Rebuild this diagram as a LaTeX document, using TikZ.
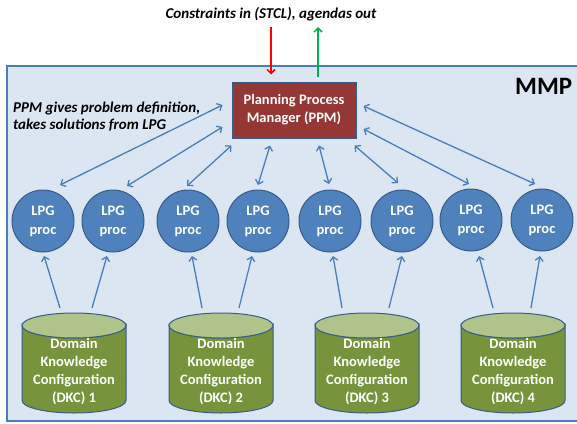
\documentclass[tikz,border=0pt]{standalone}
\usepackage{fontspec}
\setmainfont{Carlito}
\usetikzlibrary{arrows.meta,calc}

\definecolor{panelfill}{HTML}{DCE6F2}
\definecolor{panelline}{HTML}{4A7EBB}
\definecolor{shapeline}{HTML}{385D8A}
\definecolor{lpgfill}{HTML}{4F81BD}
\definecolor{ppmfill}{HTML}{953735}
\definecolor{dkcbody}{HTML}{77933C}
\definecolor{dkctop}{HTML}{B0C38A}
\definecolor{linkblue}{HTML}{4A7EBB}
\definecolor{inred}{HTML}{FF0000}
\definecolor{outgreen}{HTML}{00B050}

\tikzset{
  barb/.tip={Straight Barb[length=4pt,width=8pt]},
  lbl/.style={font=\fontsize{14.5}{18}\selectfont\bfseries, text=white, align=center},
  lpg/.style={circle, draw=shapeline, line width=1pt, fill=lpgfill,
    minimum size=62pt, inner sep=0pt, lbl, font=\fontsize{14.5}{19}\selectfont\bfseries},
  ppmbox/.style={rectangle, draw=shapeline, line width=1pt, fill=ppmfill,
    minimum width=124pt, minimum height=56pt, lbl},
  note/.style={font=\fontsize{15}{17}\selectfont\bfseries\itshape, text=black},
  link/.style={draw=linkblue, line width=1.3pt, barb-barb},
  feed/.style={draw=linkblue, line width=1.3pt, -barb},
  dkcdrum/.pic={
    \path[fill=dkcbody, draw=shapeline, line width=1pt]
      (-52,-37.5) -- (-52,37.5)
      arc[start angle=180, end angle=0, x radius=52, y radius=12.5]
      -- (52,-37.5)
      arc[start angle=0, end angle=180, x radius=52, y radius=12.5] -- cycle;
    \path[fill=dkctop, draw=shapeline, line width=1pt]
      (0,-37.5) ellipse[x radius=52, y radius=12.5];
  }
}

\begin{document}
\begin{tikzpicture}[x=1pt,y=-1pt]
\useasboundingbox (0,0) rectangle (577,423);
\clip (0,0) rectangle (577,423);
\fill[white] (0,0) rectangle (577,423);

% system panel
\path[fill=panelfill, draw=panelline, line width=1.5pt] (7,66) rectangle (600,421);
\node[font=\fontsize{25}{28}\selectfont\bfseries, anchor=west, inner sep=0pt] (mmp) at (515,86) {MMP};

% external interface
\node[note] (title) at (271,14) {Constraints in (STCL), agendas out};
\coordinate (cin) at (271,27);
\coordinate (aout) at (318,27);

% planning process manager
\node[ppmbox] (ppm) at (294,110) {Planning Process\\Manager (PPM)};

\node[note, anchor=west, align=left, inner sep=0pt] (hint) at (13,116.5)
  {PPM gives problem definition,\\takes solutions from LPG};

% LPG processes
\node[lpg] (lpg1) at (43,221) {LPG\\proc};
\node[lpg] (lpg2) at (113,221) {LPG\\proc};
\node[lpg] (lpg3) at (188,221) {LPG\\proc};
\node[lpg] (lpg4) at (258,221) {LPG\\proc};
\node[lpg] (lpg5) at (330,221) {LPG\\proc};
\node[lpg] (lpg6) at (402,221) {LPG\\proc};
\node[lpg] (lpg7) at (471,220) {LPG\\proc};
\node[lpg] (lpg8) at (542,220) {LPG\\proc};

% domain knowledge stores
\foreach \cx/\k in {74/1, 221/2, 367/3, 513/4} {
  \pic at (\cx,363) {dkcdrum};
  \node[lbl] (dkc\k) at (\cx,372) {Domain\\Knowledge\\Configuration\\(DKC) \k};
}

% constraints in, agendas out
\draw[draw=inred, line width=1.5pt, -barb] (cin) -- ($(ppm.north)+(-23,-7)$);
\draw[draw=outgreen, line width=1.5pt, -barb] ($(ppm.north)+(24,-5)$) -- (aout);

% PPM <-> LPG exchanges
\draw[link] ($(ppm.west)+(-9,-5)$)   -- ($(lpg1.center)+(17,-36)$);
\draw[link] ($(ppm.west)+(-9,17)$)   -- ($(lpg2.center)+(14,-35)$);
\draw[link] ($(ppm.south west)+(0,7)$) -- ($(lpg3.center)+(-1,-35)$);
\draw[link] ($(ppm.south)+(-24,7)$)  -- ($(lpg4.center)+(0,-36)$);
\draw[link] ($(ppm.south)+(25,7)$)   -- ($(lpg5.center)+(-1,-37)$);
\draw[link] ($(ppm.south east)+(-2,7)$) -- ($(lpg6.center)+(-4,-38)$);
\draw[link] ($(ppm.east)+(7,19)$)    -- ($(lpg7.center)+(-2,-36)$);
\draw[link] ($(ppm.east)+(7,-4)$)    -- ($(lpg8.center)+(-7,-36)$);

% DKC feeds to LPG processes
\draw[feed] ($(dkc1.center)+(-14,-64)$) -- ($(lpg1.center)+(1,35)$);
\draw[feed] ($(dkc1.center)+(18,-64)$)  -- ($(lpg2.center)+(-6,35)$);
\draw[feed] ($(dkc2.center)+(-19,-64)$) -- ($(lpg3.center)+(4,35)$);
\draw[feed] ($(dkc2.center)+(18,-64)$)  -- ($(lpg4.center)+(-6,35)$);
\draw[feed] ($(dkc3.center)+(-25,-64)$) -- ($(lpg5.center)+(3,35)$);
\draw[feed] ($(dkc3.center)+(22,-64)$)  -- ($(lpg6.center)+(0,35)$);
\draw[feed] ($(dkc4.center)+(-20,-64)$) -- ($(lpg7.center)+(8,36)$);
\draw[feed] ($(dkc4.center)+(18,-64)$)  -- ($(lpg8.center)+(-2,36)$);
\end{tikzpicture}
\end{document}
